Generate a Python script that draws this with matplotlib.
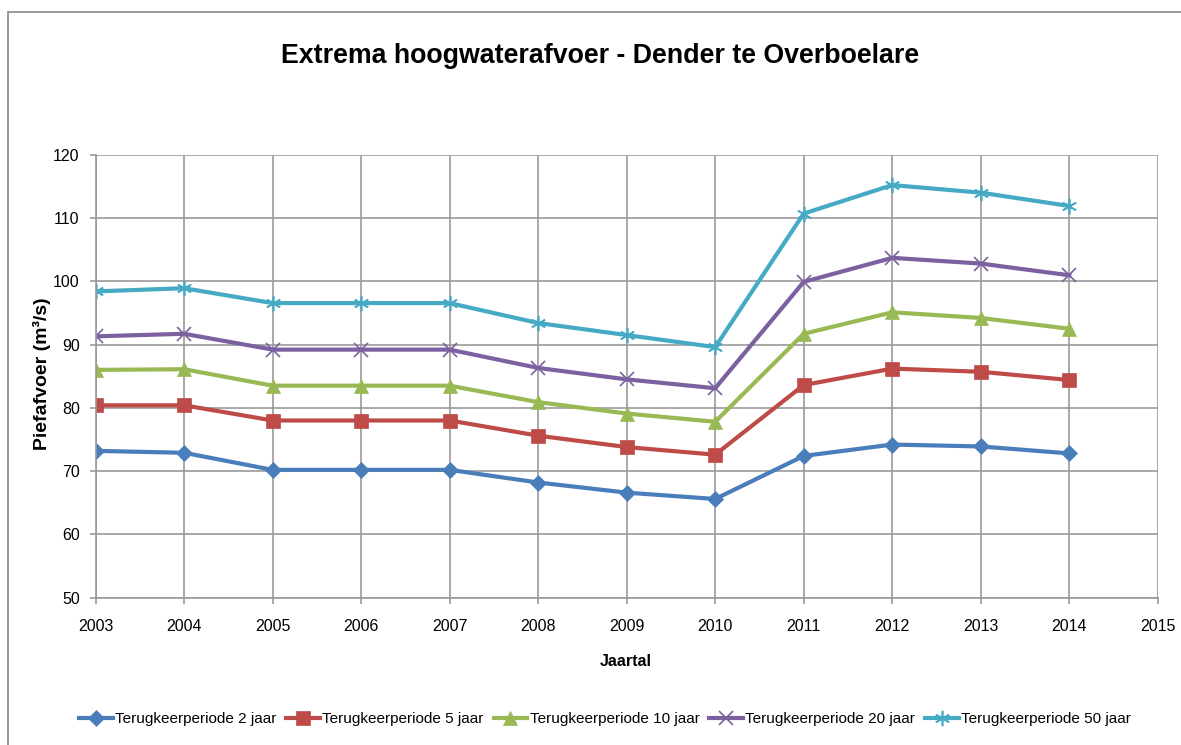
import matplotlib
matplotlib.use("Agg")
import matplotlib.pyplot as plt
from matplotlib.patches import Rectangle

plt.rcParams['font.family'] = ['Liberation Sans', 'DejaVu Sans']

years = [2003, 2004, 2005, 2006, 2007, 2008, 2009, 2010, 2011, 2012, 2013, 2014]
t2 = [73.2, 72.9, 70.2, 70.2, 70.2, 68.2, 66.6, 65.6, 72.4, 74.2, 73.9, 72.8]
t5 = [80.4, 80.4, 78.0, 78.0, 78.0, 75.6, 73.8, 72.6, 83.6, 86.2, 85.7, 84.4]
t10 = [86.0, 86.1, 83.5, 83.5, 83.5, 80.9, 79.1, 77.8, 91.7, 95.1, 94.2, 92.5]
t20 = [91.3, 91.7, 89.2, 89.2, 89.2, 86.3, 84.5, 83.1, 99.9, 103.7, 102.8, 100.95]
t50 = [98.4, 98.9, 96.55, 96.55, 96.55, 93.4, 91.5, 89.6, 110.7, 115.2, 114.0, 111.9]
labels = ["Terugkeerperiode 2 jaar", "Terugkeerperiode 5 jaar", "Terugkeerperiode 10 jaar",
          "Terugkeerperiode 20 jaar", "Terugkeerperiode 50 jaar"]
xticks = list(range(2003, 2016))
yticks = list(range(50, 121, 10))

colors = ["#4A7EBB", "#BE4B48", "#98B954", "#7D60A0", "#46AAC5"]
markers = ["D", "s", "^", "x", (6, 2, 0)]
msizes = [8, 10, 10, 10, 11]

W, H = 1181, 745
fig = plt.figure(figsize=(W / 100, H / 100), dpi=100)
fig.patches.append(Rectangle((8 / W, -0.1), 1.2, (745 - 12) / H + 0.1, transform=fig.transFigure,
                             fill=False, edgecolor="#888888", linewidth=1.2))
ax = fig.add_axes([95.7 / W, (745 - 597.7) / H, (1157.7 - 95.7) / W, (597.7 - 154.7) / H])

for vals, c, m, ms, lab in zip([t2, t5, t10, t20, t50], colors, markers, msizes, labels):
    thin = (m == "x") or isinstance(m, tuple)
    ax.plot(years, vals, color=c, marker=m, markersize=ms, linewidth=3.0, label=lab,
            markeredgecolor=c, markerfacecolor=c, markeredgewidth=1.2 if thin else 0.5)

ax.set_xlim(2003, 2015)
ax.set_ylim(50, 120)
ax.set_xticks(xticks)
ax.set_yticks(yticks)
ax.grid(True, color="#999999", linewidth=1.2)
ax.set_axisbelow(True)
for s in ax.spines.values():
    s.set_color("#999999")
    s.set_linewidth(1.2)
ax.spines['top'].set_visible(False)
ax.spines['right'].set_visible(False)
ax.tick_params(axis='both', colors="#999999", labelcolor="black", labelsize=11.5, length=4.5, width=1.2)
ax.tick_params(axis='x', pad=11)
ax.tick_params(axis='y', pad=7)

fig.text(600 / W, 1 - 56 / H, "Extrema hoogwaterafvoer - Dender te Overboelare", ha="center", va="center",
         fontsize=19.3, fontweight="bold")
fig.text(626 / W, 1 - 661 / H, "Jaartal", ha="center", va="center", fontsize=11.5, fontweight="bold")
fig.text(42 / W, 1 - 374 / H, "Piefafvoer (m³/s)", ha="center", va="center", rotation=90,
         fontsize=14, fontweight="bold")

fig.legend(loc="center", bbox_to_anchor=(605 / W, 1 - 719 / H), ncol=5, frameon=False, fontsize=11,
           handlelength=2.2, handletextpad=0.15, columnspacing=0.65)

fig.savefig("out.png", dpi=100)
